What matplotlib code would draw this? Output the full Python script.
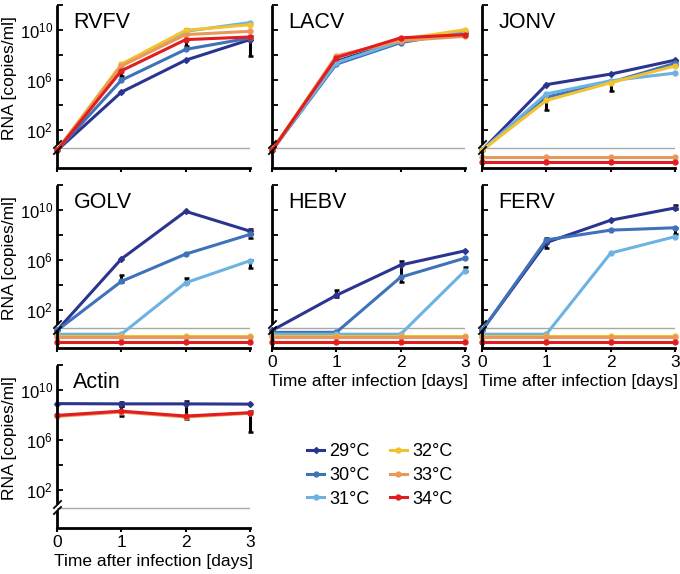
import numpy as np
import matplotlib
matplotlib.use('Agg')
import matplotlib.pyplot as plt
from matplotlib.lines import Line2D

plt.rcParams['font.family'] = ['Liberation Sans', 'DejaVu Sans']
plt.rcParams['mathtext.fontset'] = 'custom'
plt.rcParams['mathtext.rm'] = 'Liberation Sans'
plt.rcParams['mathtext.it'] = 'Liberation Sans:italic'

nan = np.nan
days = [0, 1, 2, 3]
temps = ['29°C', '30°C', '31°C', '32°C', '33°C', '34°C']
colors = ['#2b3590', '#3f72b8', '#6cb2e2', '#f2c230', '#e8995a', '#e21d1f']
markers = ['D', 'o', 'o', 'o', 'o', 'o']

# log10 RNA copies/ml, nan = not detected
rvfv = [[0.4, 5.05, 7.6, 9.24],
        [0.4, 6.0, 8.46, 9.37],
        [0.4, 7.2, 9.9, 10.6],
        [0.4, 7.28, 9.98, 10.43],
        [0.4, 7.14, 9.64, 9.9],
        [0.4, 6.75, 9.24, 9.45]]
lacv = [[0.4, 7.5, 9.2, 9.8],
        [0.4, 7.28, 9.0, 9.85],
        [0.4, 7.4, 9.1, 9.9],
        [0.4, 7.85, 9.25, 10.03],
        [0.4, 7.95, 9.15, 9.5],
        [0.4, 7.8, 9.38, 9.64]]
jonv = [[0.4, 5.65, 6.49, 7.6],
        [0.4, 4.65, 5.83, 7.35],
        [0.4, 4.91, 5.96, 6.57],
        [0.4, 4.39, 5.8, 7.14],
        [nan, nan, nan, nan],
        [nan, nan, nan, nan]]
golv = [[0.4, 6.1, 9.9, 8.32],
        [0.4, 4.31, 6.49, 8.06],
        [nan, nan, 4.2, 5.96],
        [nan, nan, nan, nan],
        [nan, nan, nan, nan],
        [nan, nan, nan, nan]]
hebv = [[0.4, 3.2, 5.62, 6.75],
        [nan, nan, 4.65, 6.17],
        [nan, nan, nan, 5.17],
        [nan, nan, nan, nan],
        [nan, nan, nan, nan],
        [nan, nan, nan, nan]]
ferv = [[0.4, 7.41, 9.19, 10.17],
        [0.4, 7.62, 8.4, 8.59],
        [nan, nan, 6.57, 7.88],
        [nan, nan, nan, nan],
        [nan, nan, nan, nan],
        [nan, nan, nan, nan]]
actin = [[8.92, 8.9, 8.9, 8.88],
         None,
         None,
         None,
         [7.9, 8.25, 7.85, 8.15],
         [7.98, 8.32, 7.93, 8.2]]

# error bars: (day, low, high) in log10 units
rvfv_err = [(1, 6.3, 7.4), (2, 8.7, 10.05), (3, 7.93, 9.5)]
lacv_err = []
jonv_err = [(1, 3.6, 4.7), (2, 5.17, 5.9), (3, 7.2, 7.5)]
golv_err = [(1, 4.3, 4.8), (2, 4.2, 4.55), (3, 7.8, 8.1), (3, 5.36, 6.0), (3, 8.1, 8.5)]
hebv_err = [(1, 3.08, 3.6), (2, 4.26, 5.96), (3, 5.17, 5.45)]
ferv_err = [(1, 7.0, 7.8), (3, 10.1, 10.4), (3, 8.06, 8.6)]
actin_err = [(1, 7.93, 8.72), (2, 7.73, 9.1), (3, 6.67, 8.3), (1, 8.75, 9.05)]

LOD = 0.6
nd_level = [0.45, 0.25, 0.1, -0.05, -0.15, -0.55]

panels = [('RVFV', rvfv, rvfv_err, 0, 0),
          ('LACV', lacv, lacv_err, 0, 1),
          ('JONV', jonv, jonv_err, 0, 2),
          ('GOLV', golv, golv_err, 1, 0),
          ('HEBV', hebv, hebv_err, 1, 1),
          ('FERV', ferv, ferv_err, 1, 2),
          ('Actin', actin, actin_err, 2, 0)]

W, H = 680, 574
col_left = [57, 272, 482]
col_w = 193
row_top = [5, 185, 365]
row_h = 163

fig = plt.figure(figsize=(W / 100, H / 100), dpi=100)

for name, data, errs, r, c in panels:
    ax = fig.add_axes([col_left[c] / W, 1 - (row_top[r] + row_h) / H, col_w / W, row_h / H])
    ax.set_xlim(0, 3)
    ax.set_ylim(-1, 12)
    ax.axhline(LOD, color='#a8a8a8', lw=1, zorder=1)

    for d, lo, hi in errs:
        ax.errorbar(d, (lo + hi) / 2, yerr=(hi - lo) / 2, fmt='none', ecolor='k',
                    elinewidth=2.2, capsize=1.8, capthick=1.8, zorder=2, clip_on=False)

    for i, vals in enumerate(data):
        if vals is None:
            continue
        v = np.array(vals, dtype=float)
        y = np.where(np.isnan(v), nd_level[i], v)
        ax.plot(days, y, color=colors[i], lw=2.2, marker=markers[i],
                ms=3.5 if markers[i] == 'o' else 3, clip_on=False, zorder=3 + i)

    for s in ['top', 'right', 'left']:
        ax.spines[s].set_visible(False)
    ax.spines['bottom'].set_linewidth(2)

    # broken left axis
    tr = ax.get_yaxis_transform()
    ax.plot([0, 0], [0.95, 12], transform=tr, color='k', lw=2, clip_on=False,
            solid_capstyle='butt', zorder=10)
    ax.plot([0, 0], [-1, 0.4], transform=tr, color='k', lw=2, clip_on=False,
            solid_capstyle='butt', zorder=10)
    ax.plot([0, 0], [0.95, 0.4], transform=tr, ls='none', marker=[(-1, -1), (1, 1)],
            ms=6, mew=1.3, color='k', clip_on=False, zorder=10)

    ax.set_yticks([2, 4, 6, 8, 10, 12])
    ax.tick_params(axis='y', direction='in', length=4, width=1.3, labelsize=12, pad=3)
    if c == 0:
        ax.set_yticklabels(['10$^{2}$', '', '10$^{6}$', '', '10$^{10}$', ''])
        ax.set_ylabel('RNA [copies/ml]', fontsize=12.5)
        ax.yaxis.set_label_coords(-0.205, 0.55)
    else:
        ax.set_yticklabels([])

    ax.set_xticks(days)
    ax.tick_params(axis='x', direction='out', length=3, width=1.5, labelsize=12.5, pad=2)
    if (r == 1 and c > 0) or r == 2:
        ax.set_xticklabels([str(d) for d in days])
        ax.set_xlabel('Time after infection [days]', fontsize=12.5, labelpad=3)
    else:
        ax.set_xticklabels([])

    ax.text(0.085, 0.895, name, transform=ax.transAxes, fontsize=15.5, va='center', ha='left')

handles = [Line2D([], [], color=colors[i], lw=2.2, marker=markers[i],
                  ms=3.5 if markers[i] == 'o' else 3) for i in range(6)]
fig.legend(handles, temps, loc='upper left', bbox_to_anchor=(307 / W, 1 - 443 / H),
           ncol=2, frameon=False, fontsize=13, handlelength=0.95, handletextpad=0.3,
           columnspacing=1.1, labelspacing=0.38, borderpad=0, borderaxespad=0)

fig.savefig('out.png', dpi=100)
